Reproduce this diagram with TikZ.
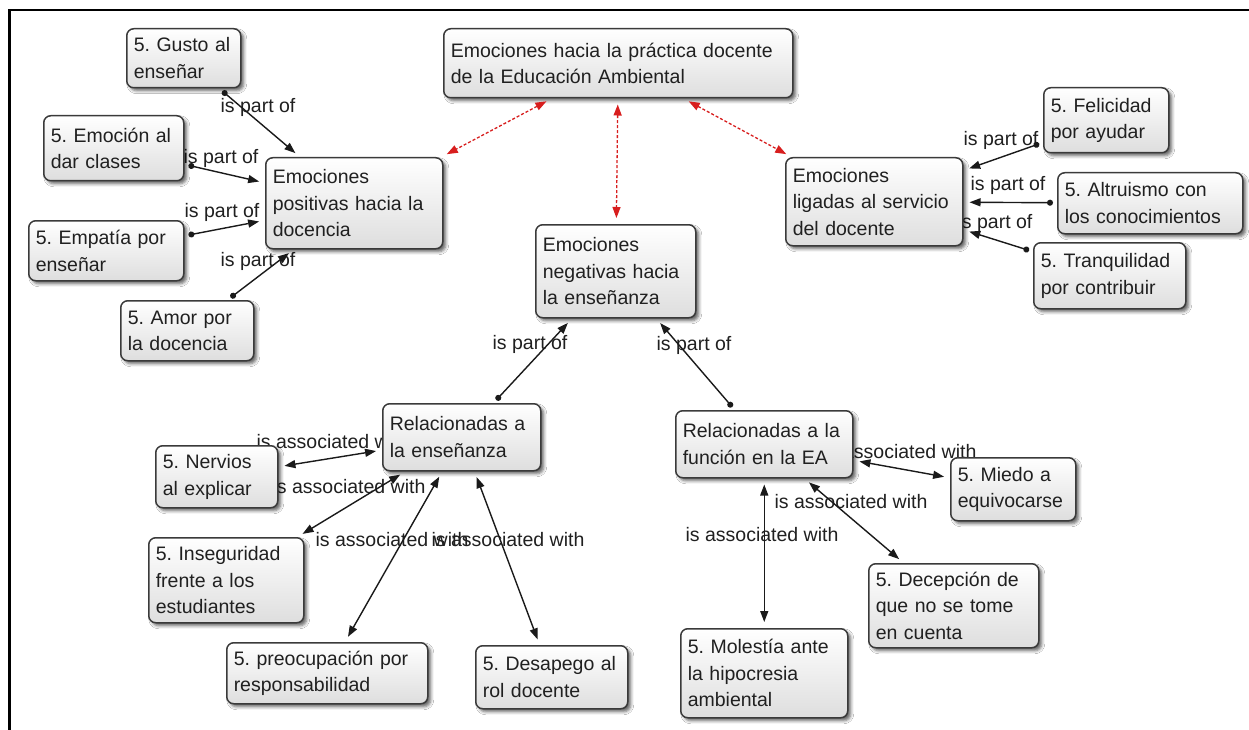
\documentclass[tikz,border=0pt]{standalone}
\usepackage{fontspec}
\setmainfont{Liberation Sans}
\usetikzlibrary{arrows.meta,shadows.blur}
\definecolor{edgeink}{HTML}{1A1A1A}
\definecolor{boxline}{HTML}{3A3A3A}
\definecolor{ink}{HTML}{202020}
\definecolor{linkred}{HTML}{D81E1E}
\tikzset{
  concept/.style={draw=boxline, line width=1.5pt, rounded corners=7pt,
    top color=white, bottom color=black!13,
    blur shadow={shadow xshift=3pt, shadow yshift=-3pt, shadow blur radius=3pt, shadow opacity=60},
    anchor=north west, align=left, inner xsep=7pt, inner ysep=0pt, text=ink,
    font=\fontsize{19.5}{26.5}\selectfont},
  linkname/.style={text=ink, font=\fontsize{19.5}{22}\selectfont, inner sep=0pt},
  partof/.style={draw=edgeink, line width=1.4pt,
    {Circle[length=6pt]}-{Triangle[length=11pt,width=8pt]}, shorten <=4pt, shorten >=6pt},
  assoc/.style={draw=edgeink, line width=1.4pt,
    {Triangle[length=11pt,width=8pt]}-{Triangle[length=11pt,width=8pt]}, shorten <=6pt, shorten >=6pt},
  mainlink/.style={draw=linkred, line width=1.3pt, dash pattern=on 3pt off 2pt,
    {Triangle[length=11pt,width=8pt]}-{Triangle[length=11pt,width=8pt]}, shorten <=6pt, shorten >=6pt},
}
\frenchspacing
\begin{document}
\begin{tikzpicture}[x=1pt,y=-1pt]
\useasboundingbox (0,0) rectangle (1249,730);
\fill[white] (0,0) rectangle (1249,730);
% frame
\draw[line width=2.5pt] (9.5,730) -- (9.5,10) -- (1249,10);

% linking phrases
\node[linkname] (l1) at (258,107) {is part of};
\node[linkname] (l2) at (221,158) {is part of};
\node[linkname] (l3) at (222,212) {is part of};
\node[linkname] (l4) at (258,261) {is part of};
\node[linkname] (l5) at (1001,140) {is part of};
\node[linkname] (l6) at (1008,185) {is part of};
\node[linkname] (l7) at (995,223) {is part of};
\node[linkname] (l8) at (530,344) {is part of};
\node[linkname] (l9) at (694,345) {is part of};
\node[linkname] (l10) at (333,442) {is associated with};
\node[linkname] (l11) at (349,487) {is associated with};
\node[linkname] (l12) at (392,540) {is associated with};
\node[linkname] (l13) at (508,540) {is associated with};
\node[linkname] (l14) at (900,452) {is associated with};
\node[linkname] (l15) at (851,502) {is associated with};
\node[linkname] (l16) at (762,535) {is associated with};

% concepts
\node[concept, text width=335pt, minimum height=69pt] (top) at (443,28) {Emociones hacia la práctica docente\\de la Educación Ambiental};
\node[concept, text width=163pt, minimum height=91pt] (pos) at (265,157) {Emociones\\positivas hacia la\\docencia};
\node[concept, text width=146pt, minimum height=93pt] (neg) at (535,224) {Emociones\\negativas hacia\\la enseñanza};
\node[concept, text width=163pt, minimum height=88pt] (lig) at (785,157) {Emociones\\ligadas al servicio\\del docente};
\node[concept, text width=111pt, minimum height=65pt] (fel) at (1043,87) {5. Felicidad\\por ayudar};
\node[concept, text width=171pt, minimum height=61pt] (alt) at (1057,172) {5. Altruismo con\\los conocimientos};
\node[concept, text width=138pt, minimum height=66pt] (tra) at (1033,242) {5. Tranquilidad\\por contribuir};
\node[concept, text width=100pt, minimum height=59pt] (gusto) at (126,28) {5. Gusto al\\enseñar};
\node[concept, text width=126pt, minimum height=65pt] (emoc) at (43,115) {5. Emoción al\\dar clases};
\node[concept, text width=141pt, minimum height=60pt] (empa) at (28,220) {5. Empatía por\\enseñar};
\node[concept, text width=119pt, minimum height=60pt] (amor) at (120,300) {5. Amor por\\la docencia};
\node[concept, text width=144pt, minimum height=67pt] (relE) at (382,403) {Relacionadas a\\la enseñanza};
\node[concept, text width=163pt, minimum height=67pt] (relF) at (675,410) {Relacionadas a la\\función en la EA};
\node[concept, text width=108pt, minimum height=62pt] (nerv) at (155,445) {5. Nervios\\al explicar};
\node[concept, text width=141pt, minimum height=85pt] (inseg) at (148,537) {5. Inseguridad\\frente a los\\estudiantes};
\node[concept, text width=187pt, minimum height=61pt] (preoc) at (226,642) {5. preocupación por\\responsabilidad};
\node[concept, text width=138pt, minimum height=63pt] (desap) at (475,645) {5. Desapego al\\rol docente};
\node[concept, text width=111pt, minimum height=63pt] (miedo) at (950,457) {5. Miedo a\\equivocarse};
\node[concept, text width=156pt, minimum height=84pt] (decep) at (868,563) {5. Decepción de\\que no se tome\\en cuenta};
\node[concept, text width=153pt, minimum height=89pt] (moles) at (680,628) {5. Molestía ante\\la hipocresia\\ambiental};

% links from the main concept
\draw[mainlink] (top) -- (pos);
\draw[mainlink] (top) -- (neg);
\draw[mainlink] (top) -- (lig);

% "is part of" links
\draw[partof] (gusto) -- (pos);
\draw[partof] (emoc) -- (pos);
\draw[partof] (empa) -- (pos);
\draw[partof] (amor) -- (pos);
\draw[partof] (fel) -- (lig);
\draw[partof] (alt) -- (lig);
\draw[partof] (tra) -- (lig);
\draw[partof] (relE) -- (neg);
\draw[partof] (relF) -- (neg);

% "is associated with" links
\draw[assoc] (relE) -- (nerv);
\draw[assoc] (relE) -- (inseg);
\draw[assoc] (relE) -- (preoc);
\draw[assoc] (relE) -- (desap);
\draw[assoc] (relF) -- (miedo);
\draw[assoc] (relF) -- (decep);
\draw[assoc] (relF) -- (moles);
\end{tikzpicture}
\end{document}
